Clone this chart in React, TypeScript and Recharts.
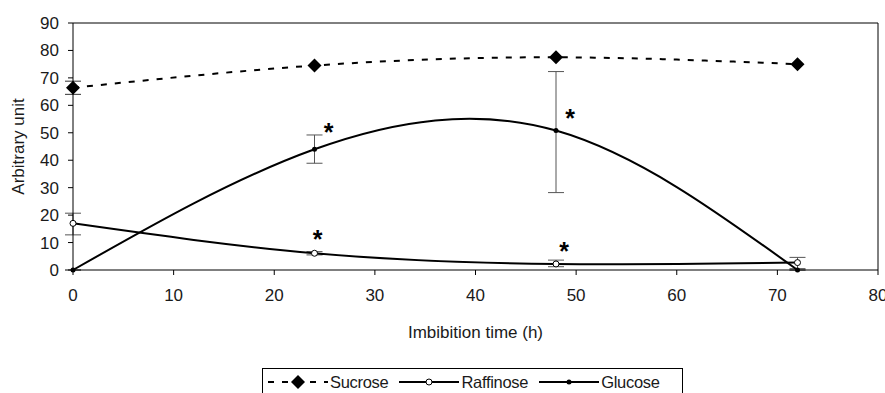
import React from "react";
import {
  ComposedChart,
  Line,
  Scatter,
  XAxis,
  YAxis,
  ErrorBar,
  ReferenceLine,
} from "recharts";

// imbibition times (h)
const times = [0, 24, 48, 72];
const sucrose = [66.4, 74.5, 77.5, 75];
const sucroseErr = [2.4, 0, 0, 0];
const raffinose = [17, 6.1, 2.2, 2.7];
const raffinoseErr = [[4.2, 3.7], [0.6, 0.6], [1, 1.4], [2.2, 1.9]];
const glucose = [0, 44, 50.8, 0];
const glucoseErr = [[0, 0], [5.1, 5.2], [22.6, 21.5], [0, 0]];

// significance marks (*)
const starTimes = [25.4, 49.4, 24.3, 48.8];
const starValues = [49.9, 55, 10.9, 6.5];

const xTicks = [0, 10, 20, 30, 40, 50, 60, 70, 80];
const yTicks = [0, 10, 20, 30, 40, 50, 60, 70, 80, 90];

const data = times.map((t, i) => ({
  t,
  sucrose: sucrose[i],
  sucroseErr: sucroseErr[i],
  raffinose: raffinose[i],
  raffinoseErr: raffinoseErr[i],
  glucose: glucose[i],
  glucoseErr: glucoseErr[i],
}));
const stars = starTimes.map((t, i) => ({ t, v: starValues[i] }));

const FONT = "'Liberation Sans', Arial, sans-serif";
const INK = "#1a1a1a";

const Diamond = (p: any) => {
  const { cx, cy } = p;
  if (cx == null || cy == null) return null;
  return (
    <polygon
      points={`${cx},${cy - 7} ${cx + 7},${cy} ${cx},${cy + 7} ${cx - 7},${cy}`}
      fill="#000"
    />
  );
};
const SmallDot = (p: any) =>
  p.cx == null ? null : <circle cx={p.cx} cy={p.cy} r={2.5} fill="#000" />;
const OpenDot = (p: any) =>
  p.cx == null ? null : (
    <circle cx={p.cx} cy={p.cy} r={3} fill="#fff" stroke="#000" strokeWidth={1} />
  );

const Star = (p: any) => (
  <text
    x={p.cx}
    y={p.cy}
    dy="0.3em"
    textAnchor="middle"
    fontFamily={FONT}
    fontSize={25}
    fontWeight="bold"
    fill="#000"
  >
    *
  </text>
);

const XTitle = (p: any) => {
  const vb = p.viewBox || { x: 73, y: 270, width: 805 };
  return (
    <text
      x={vb.x + vb.width / 2}
      y={vb.y + 68}
      textAnchor="middle"
      fontFamily={FONT}
      fontSize={17}
      fill={INK}
    >
      Imbibition time (h)
    </text>
  );
};

const YTitle = (p: any) => {
  const vb = p.viewBox || { y: 23, height: 247 };
  const cy = vb.y + vb.height / 2;
  return (
    <text
      x={18}
      y={cy}
      transform={`rotate(-90, 18, ${cy})`}
      textAnchor="middle"
      dominantBaseline="central"
      fontFamily={FONT}
      fontSize={17}
      fill={INK}
    >
      Arbitrary unit
    </text>
  );
};

const legendItems = [
  { name: "Sucrose", dash: "6 8", marker: "diamond" },
  { name: "Raffinose", dash: undefined, marker: "open" },
  { name: "Glucose", dash: undefined, marker: "dot" },
];

function LegendBox() {
  return (
    <div
      style={{
        position: "absolute",
        left: 262,
        top: 368,
        width: 421,
        height: 40,
        border: "1px solid #000",
        boxSizing: "border-box",
        display: "flex",
        alignItems: "flex-start",
        paddingTop: 3,
        paddingLeft: 5,
        fontFamily: FONT,
        fontSize: 16.5,
        color: INK,
        background: "#fff",
      }}
    >
      {legendItems.map((it) => (
        <div key={it.name} style={{ display: "flex", alignItems: "center", marginRight: 11 }}>
          <svg width={60} height={20} style={{ marginRight: 2 }}>
            <line x1={0} y1={10} x2={60} y2={10} stroke="#000" strokeWidth={2} strokeDasharray={it.dash} />
            {it.marker === "diamond" && <Diamond cx={30} cy={10} />}
            {it.marker === "open" && <OpenDot cx={30} cy={10} />}
            {it.marker === "dot" && <SmallDot cx={30} cy={10} />}
          </svg>
          <span style={{ letterSpacing: -0.3 }}>{it.name}</span>
        </div>
      ))}
    </div>
  );
}

export default function App() {
  return (
    <div style={{ position: "relative", width: 885, height: 393, overflow: "hidden", background: "#fff" }}>
      <style>{`body{margin:0}`}</style>
      <ComposedChart
        width={885}
        height={393}
        data={data}
        margin={{ top: 23, right: 7, bottom: 0, left: 0 }}
      >
        <XAxis
          dataKey="t"
          type="number"
          domain={[0, 80]}
          ticks={xTicks}
          interval={0}
          height={123}
          tickSize={5}
          tickMargin={14}
          stroke="#000"
          tick={{ fill: INK, fontSize: 17, fontFamily: FONT }}
          label={<XTitle />}
        />
        <YAxis
          type="number"
          domain={[0, 90]}
          ticks={yTicks}
          interval={0}
          width={73}
          tickSize={5}
          tickMargin={9}
          stroke="#000"
          tick={{ fill: INK, fontSize: 17, fontFamily: FONT }}
          label={<YTitle />}
        />
        <ReferenceLine y={90} stroke="#000" />
        <ReferenceLine x={80} stroke="#000" />
        <Line
          dataKey="sucrose"
          type="natural"
          stroke="#000"
          strokeWidth={2}
          strokeDasharray="6 8"
          dot={<Diamond />}
          activeDot={false}
          isAnimationActive={false}
        >
          <ErrorBar dataKey="sucroseErr" width={8} stroke="#333" strokeWidth={1} isAnimationActive={false} />
        </Line>
        <Line
          dataKey="raffinose"
          type="natural"
          stroke="#000"
          strokeWidth={2}
          dot={<OpenDot />}
          activeDot={false}
          isAnimationActive={false}
        >
          <ErrorBar dataKey="raffinoseErr" width={8} stroke="#555" strokeWidth={1} isAnimationActive={false} />
        </Line>
        <Line
          dataKey="glucose"
          type="natural"
          stroke="#000"
          strokeWidth={2}
          dot={<SmallDot />}
          activeDot={false}
          isAnimationActive={false}
        >
          <ErrorBar dataKey="glucoseErr" width={8} stroke="#555" strokeWidth={1} isAnimationActive={false} />
        </Line>
        <Scatter data={stars} dataKey="v" shape={<Star />} isAnimationActive={false} />
      </ComposedChart>
      <LegendBox />
    </div>
  );
}
